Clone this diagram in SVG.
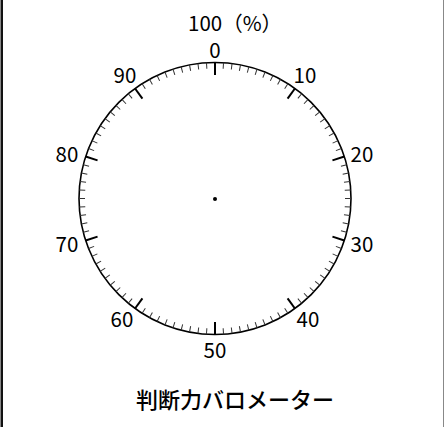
<svg xmlns="http://www.w3.org/2000/svg" xmlns:xlink="http://www.w3.org/1999/xlink" width="444" height="427" viewBox="0 0 444 427">
<style>
.t{font-family:"Noto Sans CJK JP","Noto Sans",sans-serif;fill:#000;}
.n{font-size:20.5px;text-anchor:middle;}
.mi{stroke:#333;stroke-width:1;}
.ma{stroke:#000;stroke-width:2;}
</style>
<defs>
<line id="mi" class="mi" x1="215" y1="62.5" x2="215" y2="68.5"/>
<g id="dec">
<line class="ma" x1="215" y1="62.5" x2="215" y2="75"/>
<use xlink:href="#mi" transform="rotate(3.6 215 198.5)"/>
<use xlink:href="#mi" transform="rotate(7.2 215 198.5)"/>
<use xlink:href="#mi" transform="rotate(10.8 215 198.5)"/>
<use xlink:href="#mi" transform="rotate(14.4 215 198.5)"/>
<use xlink:href="#mi" transform="rotate(18 215 198.5)"/>
<use xlink:href="#mi" transform="rotate(21.6 215 198.5)"/>
<use xlink:href="#mi" transform="rotate(25.2 215 198.5)"/>
<use xlink:href="#mi" transform="rotate(28.8 215 198.5)"/>
<use xlink:href="#mi" transform="rotate(32.4 215 198.5)"/>
</g>
</defs>
<rect x="0" y="0" width="444" height="427" fill="#fff"/>
<rect x="0.5" y="0" width="2.5" height="427" fill="#111"/>
<line x1="443.5" y1="0" x2="443.5" y2="427" stroke="#888" stroke-width="1"/>
<g id="dial">
<circle cx="215" cy="198.5" r="136" fill="none" stroke="#000" stroke-width="1.6"/>
<g id="ticks">
<use xlink:href="#dec"/>
<use xlink:href="#dec" transform="rotate(36 215 198.5)"/>
<use xlink:href="#dec" transform="rotate(72 215 198.5)"/>
<use xlink:href="#dec" transform="rotate(108 215 198.5)"/>
<use xlink:href="#dec" transform="rotate(144 215 198.5)"/>
<use xlink:href="#dec" transform="rotate(180 215 198.5)"/>
<use xlink:href="#dec" transform="rotate(216 215 198.5)"/>
<use xlink:href="#dec" transform="rotate(252 215 198.5)"/>
<use xlink:href="#dec" transform="rotate(288 215 198.5)"/>
<use xlink:href="#dec" transform="rotate(324 215 198.5)"/>
</g>
<circle cx="215" cy="199" r="2" fill="#000"/>
</g>
<g id="labels" class="t">
<text x="188" y="31" font-size="20.5">100（%）</text>
<text class="n" x="215" y="57.5">0</text>
<text class="n" x="305" y="83">10</text>
<text class="n" x="362" y="162">20</text>
<text class="n" x="362" y="252">30</text>
<text class="n" x="308" y="327">40</text>
<text class="n" x="215" y="358">50</text>
<text class="n" x="122" y="327">60</text>
<text class="n" x="67" y="252">70</text>
<text class="n" x="67" y="162">80</text>
<text class="n" x="125" y="83">90</text>
</g>
<g id="title" class="t">
<text x="235" y="408" font-size="22" font-weight="500" text-anchor="middle">判断力バロメーター</text>
</g>
</svg>
